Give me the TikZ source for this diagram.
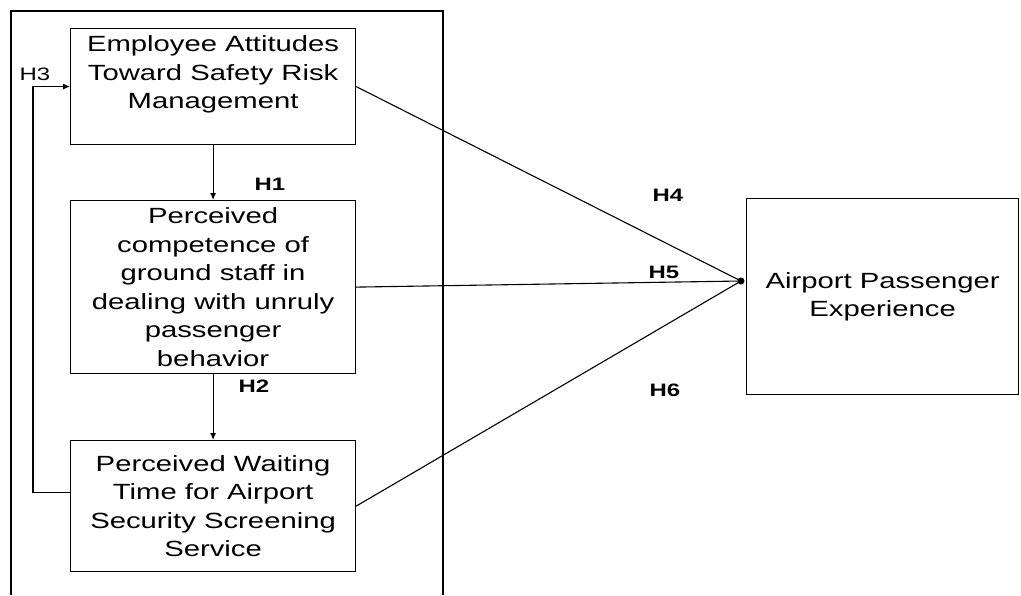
\documentclass[tikz,border=0pt]{standalone}
\usepackage{fontspec}
\setmainfont{Liberation Sans}[FakeStretch=1.33]
\usetikzlibrary{arrows.meta}
\begin{document}
\begin{tikzpicture}[x=1pt,y=-1pt,
  box/.style={draw, line width=1.2pt, rectangle, anchor=north west, inner sep=0pt,
    minimum width=285pt, align=center, font=\fontsize{22}{28.5}\selectfont},
  conn/.style={line width=1.1pt},
  arr/.style={line width=1.1pt, -{Latex[length=7pt,width=6pt]}},
  hlab/.style={font=\fontsize{18}{20}\selectfont\bfseries, inner sep=0pt},
  hlabr/.style={font=\fontsize{18}{20}\selectfont, inner sep=0pt}]
\useasboundingbox (0,0) rectangle (1021,595);
% outer frame (open at the bottom)
\draw[line width=1.2pt] (11,595) -- (11,11) -- (443,11) -- (443,595);
% boxes
\node[box, minimum height=116pt] (b1) at (70,28)
  {Employee Attitudes\\Toward Safety Risk\\Management\\\mbox{}};
\node[box, minimum height=173pt] (b2) at (70,200)
  {Perceived\\competence of\\ground staff in\\dealing with unruly\\passenger\\behavior};
\node[box, minimum height=131pt] (b3) at (70,440)
  {Perceived Waiting\\Time for Airport\\Security Screening\\Service};
\node[box, minimum width=272pt, minimum height=196pt] (b4) at (746,198)
  {Airport Passenger\\Experience};
% connectors
\draw[arr] (b1.south) -- (b2.north);
\draw[arr] (b2.south) -- (b3.north);
\draw[arr] ([yshift=13.5pt]b3.west) -- ++(-37,0) |- (b1.west);
\coordinate (hub) at (741,281);
\draw[conn] (b1.east) -- (hub);
\draw[conn] (b2.east) -- (hub);
\draw[conn] (b3.east) -- (hub);
\fill (hub) circle[radius=3.5pt];
% labels
\node[hlabr] (h3) at (35,74) {H3};
\node[hlab] (h1) at (270,184) {H1};
\node[hlab] (h2) at (254,386) {H2};
\node[hlab] (h4) at (668,195) {H4};
\node[hlab] (h5) at (664,272) {H5};
\node[hlab] (h6) at (665,390) {H6};
\end{tikzpicture}
\end{document}
